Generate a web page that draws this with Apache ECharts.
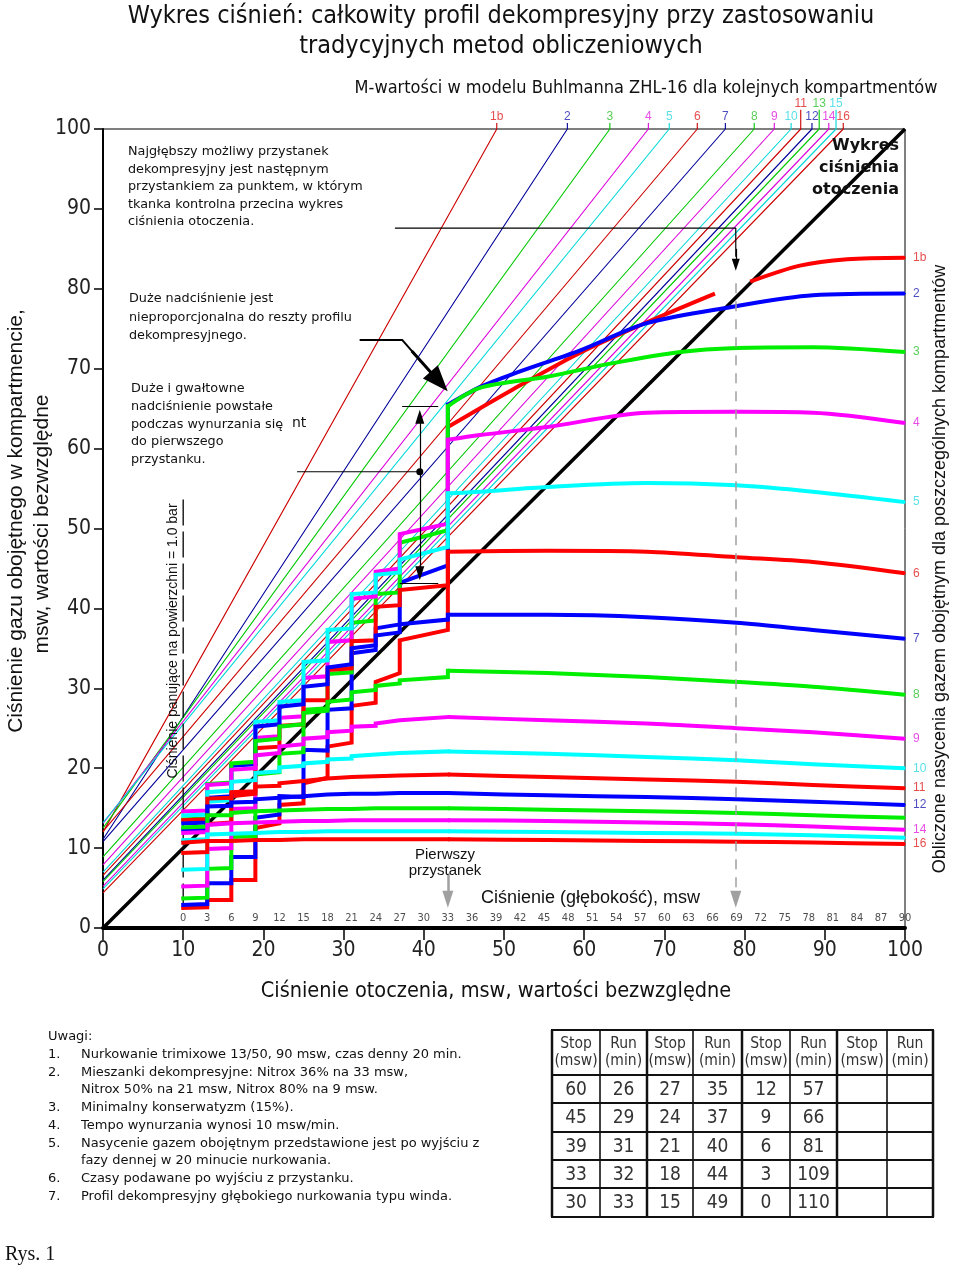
<!DOCTYPE html>
<html>
<head>
<meta charset="utf-8">
<script src="https://cdn.jsdelivr.net/npm/echarts@6.0.0/dist/echarts.min.js"></script>
<style>
html,body{margin:0;padding:0;background:#fff;}
#chart{width:960px;height:1270px;}
</style>
</head>
<body>
<div id="chart"></div>
<script>
// ================= DATA =================
const compartments = ['1b','2','3','4','5','6','7','8','9','10','11','12','13','14','15','16'];
// M-value lines: value at ambient 0 and ambient value where they reach 100 msw
const mStartY = [12.0,11.1,12.5,13.1,13.2,12.1,10.8,8.9,7.9,7.0,6.6,6.0,5.8,5.2,4.9,4.4];
const mTopX   = [49.1,57.9,63.2,68.0,70.6,74.1,77.6,81.2,83.7,85.8,87.0,88.4,89.3,90.5,91.4,92.3];
const raisedTopLabels = ['11','13','15'];
const unlabeledRight = ['13','15'];
const ambientLine = [[0,0],[100,100]];
const depthTicks = [0,3,6,9,12,15,18,21,24,27,30,33,36,39,42,45,48,51,54,57,60,63,66,69,72,75,78,81,84,87,90];
const surfacePressure = 10;
// tissue curves during ascent from bottom (ambient 100) to first stop (ambient 43)
const ascentCurves = [
  [[100,83.9],[92.8,83.7],[86.9,82.9],[80.7,80.9],null,[76.3,79.4],[67.8,75.8],[59.5,72.0],[51.1,67.4],[43,62.7]],
  [[100,79.4],[88.5,79.2],[78.2,77.7],[67.8,75.7],[59.5,72.3],[51,69.3],[47,67.7],[43,65.5]],
  [[100,72.1],[88.5,72.7],[79,72.6],[72,72.1],[63.6,70.7],[55.4,69.0],[47,67.6],[43,65.3]],
  [[100,63.2],[88.5,64.5],[79,64.6],[67.8,64.5],[55.4,62.7],[47,61.7],[43,61.1]],
  [[100,53.3],[88.5,54.6],[79,55.4],[67.8,55.7],[55.4,55.2],[47,54.6],[43,54.4]],
  [[100,44.4],[88.5,45.8],[79,46.4],[67.8,47.1],[55.4,47.2],[43,47.1]],
  [[100,36.2],[88.5,37.3],[79,38.2],[67.8,38.9],[55.4,39.2],[43,39.2]],
  [[100,29.2],[88.5,30.2],[79,30.8],[67.8,31.4],[55.4,31.9],[43,32.2]],
  [[100,23.7],[88.5,24.5],[79,25.0],[67.8,25.6],[55.4,26.0],[43,26.4]],
  [[100,20.0],[88.5,20.5],[79,21.0],[67.8,21.4],[55.4,21.8],[43,22.1]],
  [[100,17.5],[88.5,17.9],[79,18.3],[67.8,18.6],[55.4,18.9],[43,19.2]],
  [[100,15.4],[88.5,15.8],[79,16.1],[67.8,16.4],[55.4,16.6],[43,16.9]],
  [[100,13.8],[88.5,14.1],[79,14.4],[67.8,14.6],[55.4,14.8],[43,15.0]],
  [[100,12.3],[88.5,12.7],[79,13.0],[67.8,13.2],[55.4,13.4],[43,13.5]],
  [[100,11.3],[88.5,11.6],[79,11.8],[67.8,11.9],[55.4,12.0],[43,12.1]],
  [[100,10.5],[88.5,10.7],[79,10.8],[67.8,10.9],[55.4,11.0],[43,11.1]]
];
// decompression stops (ambient pressure) and tissue values on arrival / on leaving
const stopAmbient = [43,37,34,31,28,25,22,19,16,13,10];
const stopArrive = [
  [62.7,36.0,30.8,27.8,22.7,18.1,15.4,12.5,6.0,3.5,2.5],
  [65.5,43.2,37.5,34.4,27.3,22.3,16.5,13.8,8.9,5.6,2.9],
  [65.3,48.2,41.8,38.2,31.8,27.3,21.8,19.2,11.4,7.4,3.7],
  [61.1,49.3,44.6,41.2,35.8,31.3,26.3,23.8,14.9,9.9,5.2],
  [54.4,46.1,44.2,41.8,37.3,33.3,28.3,25.8,20.3,15.8,7.3],
  [47.1,42.3,40.2,35.9,32.3,28.5,25.3,22.5,16.5,13.0,9.4],
  [39.2,38.0,36.6,35.0,32.6,30.2,27.7,25.2,20.3,16.3,12.3],
  [32.2,31.0,30.3,29.5,28.3,26.9,25.2,23.4,20.6,18.0,13.6],
  [26.4,26.0,25.6,25.2,24.5,23.7,22.7,21.6,19.8,17.9,14.6],
  [22.1,21.9,21.7,21.5,21.1,20.6,20.1,19.4,18.3,17.0,14.1],
  [19.2,19.1,19.0,18.9,18.7,18.4,18.1,17.7,17.0,16.2,13.5],
  [16.9,16.9,16.8,16.8,16.7,16.5,16.3,16.1,15.7,15.2,13.1],
  [15.0,15.0,15.0,14.9,14.9,14.8,14.7,14.6,14.4,14.1,12.6],
  [13.5,13.5,13.5,13.5,13.4,13.4,13.3,13.2,13.1,12.9,11.9],
  [12.1,12.1,12.1,12.1,12.1,12.0,12.0,11.9,11.8,11.7,11.0],
  [11.1,11.1,11.1,11.1,11.1,11.1,11.0,11.0,10.9,10.9,10.7]
];
const stopLeave = [
  [37.3,31.9,28.2,23.2,18.8,15.6,13.1,6.0,3.5,2.6],
  [45.4,38.0,34.8,27.5,22.2,16.4,14.2,8.9,5.6,3.0],
  [49.8,42.0,38.5,32.0,27.5,22.0,19.5,11.5,7.5,3.8],
  [50.6,45.0,41.5,36.0,31.5,26.5,24.0,15.0,10.0,5.3],
  [47.7,44.5,42.0,37.5,33.5,28.5,26.0,20.5,16.0,7.4],
  [42.9,40.4,36.0,32.5,28.5,25.5,22.7,16.8,13.2,9.5],
  [38.6,37.0,35.4,33.0,30.5,28.0,25.5,20.5,16.5,12.4],
  [31.4,30.6,29.8,28.6,27.2,25.5,23.7,20.8,18.2,13.7],
  [26.2,25.8,25.3,24.7,23.9,23.0,21.9,20.0,18.1,14.7],
  [22.0,21.8,21.6,21.2,20.8,20.3,19.6,18.5,17.2,14.2],
  [19.1,19.0,18.9,18.8,18.5,18.2,17.8,17.1,16.3,13.6],
  [16.9,16.8,16.8,16.7,16.6,16.4,16.2,15.8,15.3,13.2],
  [15.0,15.0,14.9,14.9,14.8,14.7,14.6,14.4,14.1,12.7],
  [13.5,13.5,13.5,13.4,13.4,13.3,13.2,13.1,12.9,12.0],
  [12.1,12.1,12.1,12.1,12.0,12.0,11.9,11.8,11.7,11.1],
  [11.1,11.1,11.1,11.1,11.1,11.0,11.0,10.9,10.9,10.8]
];
// deco table
const tableHeaderStop = ['Stop','(msw)'];
const tableHeaderRun = ['Run','(min)'];
const tableStops = [[60,45,39,33,30],[27,24,21,18,15],[12,9,6,3,0],[]];
const tableRuns  = [[26,29,31,32,33],[35,37,40,44,49],[57,66,81,109,110],[]];
const notes = [
  ['', 'Uwagi:'],
  ['1.', 'Nurkowanie trimixowe 13/50, 90 msw, czas denny 20 min.'],
  ['2.', 'Mieszanki dekompresyjne: Nitrox 36% na 33 msw,'],
  ['',   'Nitrox 50% na 21 msw, Nitrox 80% na 9 msw.'],
  ['3.', 'Minimalny konserwatyzm (15%).'],
  ['4.', 'Tempo wynurzania wynosi 10 msw/min.'],
  ['5.', 'Nasycenie gazem obojętnym przedstawione jest po wyjściu z'],
  ['',   'fazy dennej w 20 minucie nurkowania.'],
  ['6.', 'Czasy podawane po wyjściu z przystanku.'],
  ['7.', 'Profil dekompresyjny głębokiego nurkowania typu winda.']
];

// ================= STYLE =================
const thickColors = ['#ff0000','#0000ff','#00ee00','#ff00ff','#00ffff'];
const thinColors  = ['#cc0000','#00009a','#00c800','#dd00dd','#00d8d8'];
const labelColors = ['#e02020','#2020b0','#30c030','#e020e0','#30d8e0'];
const NARROW = "'Liberation Sans Narrow','Arial Narrow','DejaVu Sans Condensed','Liberation Sans',sans-serif";
const ARIAL = "'Liberation Sans',Arial,sans-serif";
const VERD = "'DejaVu Sans',Verdana,sans-serif";

const series = [];
// M-value lines
compartments.forEach((n,i)=>{
  const tick = raisedTopLabels.includes(n) ? 2.4 : 0.75;
  series.push({type:'line', name:'M-'+n, data:[[0,mStartY[i]],[mTopX[i],100],[mTopX[i],100+tick]],
    symbol:'none', clip:false, silent:true, z:2,
    lineStyle:{color:thinColors[i%5], width:1.1}});
});
// ambient line
series.push({type:'line', name:'ambient', data:ambientLine, symbol:'none', silent:true, z:3,
  lineStyle:{color:'#000', width:3.5}});
// tissues
compartments.forEach((n,i)=>{
  const col = thickColors[i%5];
  series.push({type:'line', name:'T-'+n+'-asc', data:ascentCurves[i], symbol:'none', smooth:0.3,
    connectNulls:false, silent:true, z:4, lineStyle:{color:col, width:4, join:'round'}});
  const pts = [];
  stopAmbient.forEach((x,k)=>{
    pts.push([x, stopArrive[i][k]]);
    if (k < stopLeave[i].length) pts.push([x, stopLeave[i][k]]);
  });
  series.push({type:'line', name:'T-'+n+'-stops', data:pts, symbol:'none', silent:true, z:4,
    lineStyle:{color:col, width:4, join:'miter', cap:'square'}});
  const yEnd = ascentCurves[i][0][1];
  const ext = unlabeledRight.includes(n) ? 1.9 : 0.9;
  series.push({type:'line', name:'T-'+n+'-tick', data:[[100,yEnd],[100+ext,yEnd]], symbol:'none', clip:false,
    silent:true, z:4, lineStyle:{color:col, width:1}});
});
// right-side tissue labels
series.push({type:'scatter', name:'tissueLabels', symbolSize:0, clip:false, silent:true, z:8,
  data: compartments.map((n,i)=>({value:[100, ascentCurves[i][0][1]],
    label:{show:!unlabeledRight.includes(n), formatter:n, color:labelColors[i%5]}})),
  label:{position:'right', distance:8, fontSize:12, fontFamily:ARIAL}});
// top M-line labels
series.push({type:'scatter', name:'mLabels', symbolSize:0, clip:false, silent:true, z:8,
  data: compartments.map((n,i)=>({value:[mTopX[i],100],
    label:{formatter:n, color:labelColors[i%5], distance: raisedTopLabels.includes(n)?19:6}})),
  label:{show:true, position:'top', fontSize:12, fontFamily:ARIAL}});
// depth scale labels
series.push({type:'scatter', name:'depthLabels', symbolSize:0, silent:true, z:8,
  data: depthTicks.map(d=>[d+surfacePressure, 0, d]),
  label:{show:true, position:'top', distance:4, fontSize:11, fontFamily:NARROW, color:'#222',
    formatter:p=>String(p.value[2])}});
// surface pressure dashed line
series.push({type:'line', name:'surface', data:[[surfacePressure,2.3],[surfacePressure,54]], symbol:'none', silent:true, z:3,
  lineStyle:{color:'#111', width:1.4, type:[26,6]}});
// annotation 1
series.push({type:'line', name:'ann1', data:[[36.4,87.6],[78.9,87.6],[78.9,84]], symbol:'none', silent:true, z:7,
  lineStyle:{color:'#000', width:1.2},
  markLine:{silent:true, animation:false, symbol:['none','triangle'], symbolSize:[8,12], label:{show:false},
    lineStyle:{color:'#000', width:1.2, type:'solid'},
    data:[[{coord:[78.9,85]},{coord:[78.9,83.0]}]]}});
// annotation 2
series.push({type:'line', name:'ann2', data:[[32.0,73.6],[37.3,73.6],[41.5,68.8]], symbol:'none', silent:true, z:7,
  lineStyle:{color:'#000', width:2},
  markLine:{silent:true, animation:false, symbol:['none','triangle'], symbolSize:[20,26], label:{show:false},
    lineStyle:{color:'#000', width:3, type:'solid'},
    data:[[{coord:[38.5,72.2]},{coord:[41.9,68.4]}]]}});
// annotation 3
series.push({type:'line', name:'ann3', data:[{value:[24.2,57.1],symbol:'none'},{value:[39.5,57.1],symbol:'circle',symbolSize:7}],
  showSymbol:true, silent:true, z:7, itemStyle:{color:'#000'},
  lineStyle:{color:'#000', width:1.2},
  markLine:{silent:true, animation:false, label:{show:false}, lineStyle:{color:'#000', width:1.2, type:'solid'},
    data:[
      [{coord:[39.5,64.0], symbol:'triangle', symbolSize:[9,14]},{coord:[39.5,44.4], symbol:'triangle', symbolSize:[9,14]}],
      [{coord:[37.3,65.3], symbol:'none'},{coord:[41.8,65.3], symbol:'none'}],
      [{coord:[37.0,43.2], symbol:'none'},{coord:[41.8,43.2], symbol:'none'}]
    ]}});
// grey arrows (first stop and ambient)
series.push({type:'line', name:'greyArrows', data:[], symbol:'none', silent:true, z:6,
  markLine:{silent:true, animation:false, label:{show:false}, symbol:['none','triangle'], symbolSize:[11,17],
    data:[
      [{coord:[78.9,80.7], lineStyle:{color:'#a0a0a0', width:1.5, type:[10,8]}},{coord:[78.9,3.6]}],
      [{coord:[43.0,6.8], lineStyle:{color:'#a0a0a0', width:2.5, type:'solid'}},{coord:[43.0,3.6]}]
    ]}});

// ================= GRAPHIC (texts) =================
const g = [];
function txt(x,y,text,font,opts){
  opts = opts||{};
  g.push({type:'text', x:x, y:y, rotation:opts.rot||0, z:100, silent:true,
    style:{text:text, font:font, fill:opts.fill||'#111',
      textAlign:opts.align||'left', align:opts.align||'left',
      textVerticalAlign:'middle', verticalAlign:'middle'}});
}
txt(501,16,'Wykres ciśnień: całkowity profil dekompresyjny przy zastosowaniu','25px '+NARROW,{align:'center'});
txt(501,46,'tradycyjnych metod obliczeniowych','25px '+NARROW,{align:'center'});
txt(646,88,'M-wartości w modelu Buhlmanna ZHL-16 dla kolejnych kompartmentów','18px '+NARROW,{align:'center'});
const BOXF = '12.8px '+VERD;
[['Najgłębszy możliwy przystanek',152],['dekompresyjny jest następnym',170],['przystankiem za punktem, w którym',187],
 ['tkanka kontrolna przecina wykres',205],['ciśnienia otoczenia.',222]].forEach(a=>txt(128,a[1],a[0],BOXF));
[['Duże nadciśnienie jest',299],['nieproporcjonalna do reszty profilu',318],['dekompresyjnego.',336]].forEach(a=>txt(129,a[1],a[0],BOXF));
[['Duże i gwałtowne',389],['nadciśnienie powstałe',407],['podczas wynurzania się',425],['do pierwszego',442],['przystanku.',460]].forEach(a=>txt(131,a[1],a[0],BOXF));
txt(292,423,'nt','14px '+VERD);
['Wykres','ciśnienia','otoczenia'].forEach((t,k)=>txt(899,146+k*22,t,'bold 16px '+VERD,{align:'right'}));
txt(445,855,'Pierwszy','15px '+ARIAL,{align:'center'});
txt(445,871,'przystanek','15px '+ARIAL,{align:'center'});
txt(481,898,'Ciśnienie (głębokość), msw','18px '+ARIAL);
txt(173,641,'Ciśnienie panujące na powierzchni = 1.0 bar','14px '+ARIAL,{align:'center',rot:Math.PI/2});
txt(16,521,'Ciśnienie gazu obojętnego w kompartmencie,','21px '+ARIAL,{align:'center',rot:Math.PI/2});
txt(42,524,'msw, wartości bezwzględne','21px '+ARIAL,{align:'center',rot:Math.PI/2});
txt(940,569,'Obliczone nasycenia gazem obojętnym dla poszczególnych kompartmentów','18px '+ARIAL,{align:'center',rot:Math.PI/2});
txt(496,991,'Ciśnienie otoczenia, msw, wartości bezwzględne','21.5px '+NARROW,{align:'center'});
// notes
const NOTEF = '13px '+VERD;
notes.forEach((r,k)=>{
  const y = 1037 + k*17.7;
  if (k===0) { txt(48,y,r[1],NOTEF); return; }
  if (r[0]) txt(48,y,r[0],NOTEF);
  txt(81,y,r[1],NOTEF);
});
txt(5,1255,'Rys. 1','20px \'Liberation Serif\',serif');
// table
const colX = [552,600,647,693,742,790,837,887,933];
const rowY = [1030,1075,1103,1132,1160,1188,1217];
colX.forEach((x,k)=>g.push({type:'line', silent:true, z:90, shape:{x1:x,y1:rowY[0],x2:x,y2:rowY[rowY.length-1]},
  style:{stroke:'#111', lineWidth:(k%2===0)?2.5:1.6}}));
rowY.forEach((y,k)=>g.push({type:'line', silent:true, z:90, shape:{x1:colX[0]-1,y1:y,x2:colX[colX.length-1]+1,y2:y},
  style:{stroke:'#111', lineWidth:2}}));
for (let gi=0; gi<4; gi++) {
  const cs = (colX[2*gi]+colX[2*gi+1])/2, cr = (colX[2*gi+1]+colX[2*gi+2])/2;
  const HF = '15.5px '+NARROW;
  txt(cs,1044,tableHeaderStop[0],HF,{align:'center',fill:'#333'});
  txt(cs,1061,tableHeaderStop[1],HF,{align:'center',fill:'#333'});
  txt(cr,1044,tableHeaderRun[0],HF,{align:'center',fill:'#333'});
  txt(cr,1061,tableHeaderRun[1],HF,{align:'center',fill:'#333'});
  tableStops[gi].forEach((v,r)=>{
    const y = (rowY[r+1]+rowY[r+2])/2 + 1;
    txt(cs,y,String(v),'19px '+NARROW,{align:'center',fill:'#333'});
    txt(cr,y,String(tableRuns[gi][r]),'19px '+NARROW,{align:'center',fill:'#333'});
  });
}

const option = {
  animation:false,
  backgroundColor:'#fff',
  grid:{left:103, right:55, top:129, bottom:342, show:true, borderColor:'#000', borderWidth:1},
  xAxis:{type:'value', min:0, max:100, interval:10,
    axisLine:{show:true, onZero:false, lineStyle:{color:'#000', width:4}},
    axisTick:{show:true, length:12, lineStyle:{color:'#000', width:1.5}},
    axisLabel:{fontSize:21, fontFamily:NARROW, color:'#222', margin:12},
    splitLine:{show:false}},
  yAxis:{type:'value', min:0, max:100, interval:10,
    axisLine:{show:true, onZero:false, lineStyle:{color:'#000', width:2}},
    axisTick:{show:true, length:9, lineStyle:{color:'#000', width:1.5}},
    axisLabel:{fontSize:21, fontFamily:NARROW, color:'#222', margin:12},
    splitLine:{show:false}},
  series: series,
  graphic: g
};
const chart = echarts.init(document.getElementById('chart'));
chart.setOption(option);
</script>
</body>
</html>
